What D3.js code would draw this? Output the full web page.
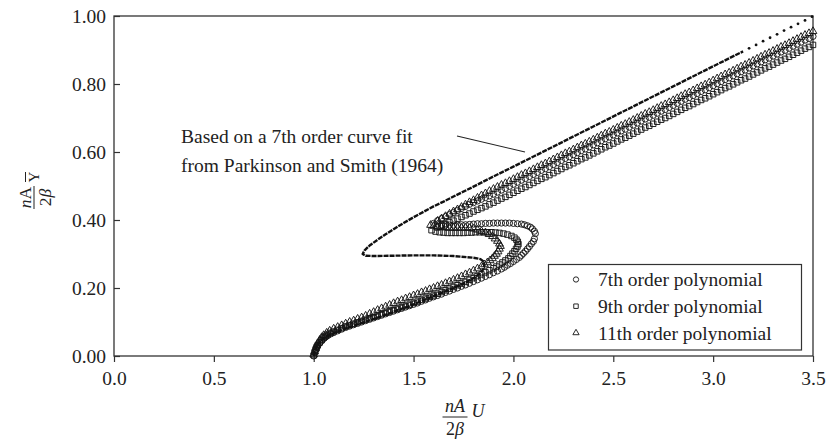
<!DOCTYPE html>
<html><head><meta charset="utf-8">
<script src="https://cdn.jsdelivr.net/npm/d3@7"></script>
<style>
body{margin:0;background:#fff}
svg{display:block}
text{font-family:"Liberation Serif","Times New Roman",serif;fill:#222}
</style>
</head><body><svg id="c" width="829" height="444"></svg>
<script>
// ---------- data ----------
const xDomain = [0, 3.5];
const yDomain = [0, 1];
const xTicks = [0, 0.5, 1.0, 1.5, 2.0, 2.5, 3.0, 3.5];
const yTicks = [0, 0.2, 0.4, 0.6, 0.8, 1.0];

// Parkinson & Smith (1964) 7th order curve fit (solid part)
const psU = [1.0,1.005,1.015,1.03,1.05,1.08,1.12,1.2,1.3,1.4,1.5,1.6,1.7,1.76,1.8,1.83,1.85,1.855,1.85,1.835,1.8,1.7,1.6,1.5,1.4,1.3,1.26,1.245,1.255,1.28,1.32,1.36,1.4,1.45,1.5,1.55,1.6,1.65,1.7,1.8,1.9,2.0,2.2,2.4,2.6,2.8,3.0,3.15];
const psY = [0.0,0.015,0.03,0.042,0.052,0.062,0.072,0.089,0.109,0.13,0.152,0.176,0.2,0.216,0.229,0.242,0.256,0.268,0.278,0.285,0.289,0.294,0.296,0.296,0.295,0.294,0.295,0.300,0.311,0.325,0.342,0.358,0.373,0.391,0.408,0.424,0.44,0.454,0.469,0.498,0.528,0.557,0.616,0.675,0.734,0.793,0.852,0.896];
// dotted tail of the same curve
const psTailU = [3.18,3.215,3.25,3.285,3.32,3.355,3.39,3.425,3.46,3.495];
const psTailY = [0.905,0.915,0.926,0.936,0.946,0.957,0.967,0.977,0.987,0.998];

// shared U values of the upper branch of the polynomial series
const upperU = [1.62,1.64,1.66,1.68,1.70,1.72,1.74,1.76,1.78,1.80,1.82,1.84,1.86,1.88,
  1.90,1.92,1.94,1.96,1.98,2.00,2.02,2.04,2.06,2.08,2.10,2.12,2.14,2.16,2.18,2.20,2.22,2.24,2.26,2.28,
  2.30,2.32,2.34,2.36,2.38,2.40,2.42,2.44,2.46,2.48,2.50,2.52,2.54,2.56,2.58,2.60,2.62,2.64,2.66,2.68,
  2.70,2.72,2.74,2.76,2.78,2.80,2.82,2.84,2.86,2.88,2.90,2.92,2.94,2.96,2.98,3.00,3.02,3.04,3.06,3.08,
  3.10,3.12,3.14,3.16,3.18,3.20,3.22,3.24,3.26,3.28,3.30,3.32,3.34,3.36,3.38,3.40,3.42,3.44,3.46,3.48,3.50];

// 7th order polynomial (circles): lower branch + fold + middle branch, then upper branch
const p7U = [1.0,1.005,1.01,1.015,1.02,1.03,1.04,1.05,1.06,1.07,1.085,1.10,1.12,1.14,1.16,1.18,1.20,1.22,1.24,1.26,
  1.28,1.30,1.32,1.34,1.36,1.38,1.40,1.42,1.44,1.46,1.48,1.50,1.52,1.54,1.56,1.58,1.60,1.62,1.64,1.66,
  1.68,1.70,1.72,1.74,1.76,1.78,1.80,1.82,1.84,1.86,1.88,1.90,1.92,1.94,1.955,1.97,1.985,2.0,2.015,2.03,
  2.04,2.05,2.06,2.07,2.08,2.09,2.1,2.105,
  2.11,2.105,2.095,2.085,2.07,2.055,2.04,2.02,2.00,1.98,1.96,1.94,1.92,1.90,1.88,1.86,1.84,1.82,1.80,1.78,
  1.76,1.74,1.72,1.70,1.68,1.66,1.64,1.62,1.60];
const p7Y = [0.0,0.01,0.018,0.025,0.03,0.038,0.045,0.051,0.056,0.06,0.065,0.069,0.074,0.079,0.084,0.088,0.092,0.096,0.100,0.104,
  0.108,0.112,0.116,0.12,0.124,0.128,0.132,0.136,0.140,0.144,0.148,0.152,0.156,0.161,0.165,0.17,0.174,0.178,0.182,0.187,
  0.191,0.196,0.200,0.205,0.209,0.214,0.219,0.224,0.229,0.234,0.239,0.245,0.250,0.256,0.261,0.267,0.272,0.278,0.284,0.29,
  0.296,0.302,0.308,0.315,0.322,0.33,0.337,0.345,
  0.36,0.367,0.374,0.379,0.383,0.386,0.388,0.389,0.39,0.391,0.391,0.391,0.391,0.391,0.39,0.39,0.389,0.389,0.388,0.387,
  0.386,0.386,0.385,0.385,0.385,0.385,0.386,0.388,0.39];
const p7Upper = [0.398,0.404,0.41,0.416,0.422,0.428,0.434,0.44,0.446,0.451,0.456,0.461,0.466,0.471,
  0.476,0.482,0.488,0.493,0.499,0.505,0.511,0.517,0.522,0.528,0.534,0.540,0.546,0.551,0.557,0.563,0.569,0.575,0.581,0.586,
  0.592,0.598,0.604,0.609,0.615,0.621,0.627,0.633,0.639,0.644,0.650,0.656,0.662,0.667,0.673,0.679,0.685,0.691,0.697,0.702,
  0.708,0.714,0.720,0.725,0.731,0.737,0.743,0.749,0.755,0.760,0.766,0.772,0.778,0.783,0.789,0.795,0.801,0.807,0.813,0.818,
  0.824,0.830,0.836,0.841,0.847,0.853,0.859,0.865,0.871,0.876,0.882,0.888,0.894,0.899,0.905,0.911,0.917,0.923,0.929,0.934,0.940];

// 9th order polynomial (squares)
const p9U = [1.0,1.005,1.01,1.015,1.02,1.03,1.04,1.05,1.06,1.07,1.085,1.10,1.12,1.14,1.16,1.18,1.20,1.22,1.24,1.26,
  1.28,1.30,1.32,1.34,1.36,1.38,1.40,1.42,1.44,1.46,1.48,1.50,1.52,1.54,1.56,1.58,1.60,1.62,1.64,1.66,
  1.68,1.70,1.72,1.74,1.76,1.78,1.80,1.82,1.84,1.86,1.88,1.90,1.915,1.93,1.945,1.96,1.975,1.985,1.995,2.005,2.013,2.02,
  2.025,2.022,2.015,2.005,1.99,1.97,1.95,1.93,1.91,1.89,1.87,1.85,1.83,1.81,1.79,1.77,1.75,1.73,1.71,1.69,
  1.67,1.65,1.63,1.61,1.59];
const p9Y = [0.002,0.012,0.02,0.027,0.032,0.04,0.047,0.054,0.059,0.063,0.068,0.072,0.077,0.082,0.087,0.091,0.095,0.099,0.103,0.107,
  0.111,0.115,0.119,0.123,0.127,0.131,0.135,0.139,0.143,0.147,0.151,0.156,0.160,0.165,0.169,0.174,0.178,0.183,0.188,0.193,
  0.198,0.203,0.208,0.213,0.218,0.224,0.229,0.235,0.240,0.246,0.252,0.258,0.263,0.269,0.275,0.281,0.287,0.294,0.301,0.308,0.315,0.322,
  0.329,0.336,0.342,0.348,0.353,0.357,0.36,0.362,0.363,0.364,0.364,0.364,0.364,0.364,0.363,0.363,0.362,0.362,0.362,0.362,
  0.362,0.363,0.364,0.366,0.37];
const p9Upper = [0.378,0.383,0.388,0.393,0.398,0.404,0.409,0.414,0.419,0.425,0.430,0.435,0.440,0.446,
  0.451,0.457,0.463,0.468,0.474,0.480,0.486,0.492,0.497,0.503,0.509,0.515,0.521,0.526,0.532,0.538,0.544,0.550,0.556,0.561,
  0.567,0.573,0.579,0.584,0.590,0.596,0.602,0.608,0.614,0.619,0.625,0.631,0.637,0.642,0.648,0.654,0.660,0.666,0.672,0.677,
  0.683,0.689,0.695,0.700,0.706,0.712,0.718,0.724,0.730,0.735,0.741,0.747,0.753,0.758,0.764,0.770,0.776,0.782,0.788,0.793,
  0.799,0.805,0.811,0.816,0.822,0.828,0.834,0.840,0.846,0.851,0.857,0.863,0.869,0.874,0.880,0.886,0.892,0.898,0.904,0.909,0.915];

// 11th order polynomial (triangles)
const p11U = [1.0,1.005,1.01,1.015,1.02,1.03,1.04,1.05,1.065,1.08,1.10,1.12,1.14,1.16,1.18,1.20,1.22,1.24,1.26,1.28,
  1.30,1.32,1.34,1.36,1.38,1.40,1.42,1.44,1.46,1.48,1.50,1.52,1.54,1.56,1.58,1.60,1.62,1.64,1.66,1.68,
  1.70,1.72,1.74,1.76,1.78,1.80,1.82,1.84,1.855,1.87,1.883,1.895,1.905,1.915,1.923,1.93,
  1.935,1.93,1.92,1.908,1.895,1.878,1.86,1.84,1.82,1.80,1.78,1.76,1.74,1.72,1.70,1.68,1.66,1.64,1.62,1.60,1.585];
const p11Y = [0.004,0.013,0.022,0.03,0.037,0.047,0.055,0.061,0.068,0.074,0.08,0.085,0.09,0.095,0.1,0.104,0.109,0.113,0.118,0.124,
  0.129,0.135,0.14,0.145,0.15,0.155,0.16,0.164,0.169,0.173,0.178,0.182,0.187,0.191,0.196,0.2,0.205,0.209,0.214,0.219,
  0.224,0.229,0.234,0.24,0.245,0.251,0.257,0.263,0.269,0.275,0.281,0.287,0.294,0.30,0.307,0.315,
  0.323,0.33,0.338,0.345,0.352,0.358,0.363,0.367,0.371,0.374,0.376,0.377,0.377,0.377,0.377,0.377,0.378,0.379,0.38,0.382,0.385];
const p11Upper = [0.397,0.404,0.411,0.418,0.425,0.431,0.438,0.445,0.452,0.458,0.465,0.472,0.478,0.485,
  0.491,0.497,0.503,0.508,0.514,0.520,0.526,0.532,0.537,0.543,0.549,0.555,0.561,0.566,0.572,0.578,0.584,0.590,0.596,0.601,
  0.607,0.613,0.619,0.624,0.630,0.636,0.642,0.648,0.654,0.659,0.665,0.671,0.677,0.682,0.688,0.694,0.700,0.706,0.712,0.717,
  0.723,0.729,0.735,0.740,0.746,0.752,0.758,0.764,0.770,0.775,0.781,0.787,0.793,0.798,0.804,0.810,0.816,0.822,0.828,0.833,
  0.839,0.845,0.851,0.856,0.862,0.868,0.874,0.880,0.886,0.891,0.897,0.903,0.909,0.914,0.920,0.926,0.932,0.938,0.944,0.949,0.955];

const legendLabels = ["7th order polynomial", "9th order polynomial", "11th order polynomial"];
const noteLines = ["Based on a 7th order curve fit", "from Parkinson and Smith (1964)"];

// ---------- drawing ----------
const svg = d3.select("#c");
const L = 114, R = 813, T = 16, B = 356;
const x = d3.scaleLinear().domain(xDomain).range([L, R]);
const y = d3.scaleLinear().domain(yDomain).range([B, T]);
const FS = 19.5;
const ink = "#222";

// axes
const gx = svg.append("g").attr("transform", `translate(0,${B})`)
  .call(d3.axisBottom(x).tickValues(xTicks).tickFormat(d3.format(".1f")).tickSize(6).tickPadding(9.5));
const gy = svg.append("g").attr("transform", `translate(${L},0)`)
  .call(d3.axisLeft(y).tickValues(yTicks).tickFormat(d3.format(".2f")).tickSize(-6).tickPadding(8));
[gx, gy].forEach(g => {
  g.attr("font-family", null).attr("font-size", null);
  g.select(".domain").remove();
  g.selectAll(".tick line").attr("stroke", "#333").attr("stroke-width", 1.2);
  g.selectAll(".tick text").attr("font-size", FS).attr("fill", ink)
    .style("font-family", '"Liberation Serif","Times New Roman",serif');
});

// frame
svg.append("rect").attr("x", L).attr("y", T).attr("width", R - L).attr("height", B - T)
  .attr("fill", "none").attr("stroke", "#333").attr("stroke-width", 1.3);

// polynomial series
const mk = (U, Y, up) => U.map((u, i) => [u, Y[i]]).concat(upperU.map((u, i) => [u, up[i]]));
const series = [
  {pts: mk(p7U, p7Y, p7Upper), type: d3.symbolCircle, size: 30, lsize: 22},
  {pts: mk(p9U, p9Y, p9Upper), type: d3.symbolSquare, size: 30, lsize: 20},
  {pts: mk(p11U, p11Y, p11Upper), type: d3.symbolTriangle, size: 26, lsize: 17}
];
series.forEach(s => {
  svg.append("g").selectAll("path").data(s.pts).join("path")
    .attr("d", d3.symbol().type(s.type).size(s.size))
    .attr("transform", d => `translate(${x(d[0])},${y(d[1])})`)
    .attr("fill", "none").attr("stroke", "#151515").attr("stroke-width", 0.95);
});

// Parkinson & Smith curve
const line = d3.line().x(d => x(d[0])).y(d => y(d[1])).curve(d3.curveLinear);
svg.append("path").datum(psU.map((u, i) => [u, psY[i]]))
  .attr("d", line).attr("fill", "none").attr("stroke", "#111")
  .attr("stroke-width", 2.4).attr("stroke-linejoin", "round").attr("stroke-dasharray", "5,1");
svg.append("g").selectAll("circle").data(psTailU.map((u, i) => [u, psTailY[i]])).join("circle")
  .attr("cx", d => x(d[0])).attr("cy", d => y(d[1])).attr("r", 1.4).attr("fill", "#111");

// annotation
const note = svg.append("g");
noteLines.forEach((t, i) => note.append("text").attr("x", 181).attr("y", 143 + i * 29)
  .attr("font-size", FS).text(t));
svg.append("line").attr("x1", 457).attr("y1", 136).attr("x2", 525).attr("y2", 152)
  .attr("stroke", ink).attr("stroke-width", 1.1);

// legend
const lg = svg.append("g");
lg.append("rect").attr("x", 548.5).attr("y", 264.5).attr("width", 253).attr("height", 85.5)
  .attr("fill", "#fff").attr("stroke", "#333").attr("stroke-width", 1.2);
legendLabels.forEach((t, i) => {
  const yy = 279.5 + i * 26.7;
  lg.append("path").attr("d", d3.symbol().type(series[i].type).size(series[i].lsize))
    .attr("transform", `translate(576,${yy})`).attr("fill", "none").attr("stroke", "#2a2a2a").attr("stroke-width", 1);
  lg.append("text").attr("x", 598).attr("y", yy).attr("dy", "0.34em").attr("font-size", FS).text(t);
});

// x-axis title: nA/2β U
const xt = svg.append("g").attr("transform", "translate(455,417)");
xt.append("line").attr("x1", -12.5).attr("x2", 12.5).attr("y1", 0).attr("y2", 0).attr("stroke", ink).attr("stroke-width", 1);
xt.append("text").attr("x", 0).attr("y", -5).attr("text-anchor", "middle").attr("font-size", 18)
  .attr("font-style", "italic").text("nA");
const xd = xt.append("text").attr("x", 0).attr("y", 18).attr("text-anchor", "middle").attr("font-size", 18);
xd.append("tspan").text("2");
xd.append("tspan").attr("font-style", "italic").text("β");
xt.append("text").attr("x", 16.5).attr("y", 0).attr("font-size", 18).attr("font-style", "italic").text("U");

// y-axis title: nA/2β Ȳ (rotated)
const yt = svg.append("g").attr("transform", "translate(34,191) rotate(-90)");
yt.append("line").attr("x1", -18).attr("x2", 5).attr("y1", 0).attr("y2", 0).attr("stroke", ink).attr("stroke-width", 1);
const yn = yt.append("text").attr("x", -6.5).attr("y", -3).attr("text-anchor", "middle").attr("font-size", 17.5);
yn.append("tspan").attr("font-style", "italic").text("n");
yn.append("tspan").text("A");
const yd = yt.append("text").attr("x", -6.5).attr("y", 16.5).attr("text-anchor", "middle").attr("font-size", 17.5);
yd.append("tspan").text("2");
yd.append("tspan").attr("font-style", "italic").text("β");
yt.append("text").attr("x", 8.5).attr("y", 4.5).attr("font-size", 15).text("Y");
yt.append("line").attr("x1", 9).attr("x2", 19).attr("y1", -8.5).attr("y2", -8.5).attr("stroke", ink).attr("stroke-width", 1);
</script></body></html>
